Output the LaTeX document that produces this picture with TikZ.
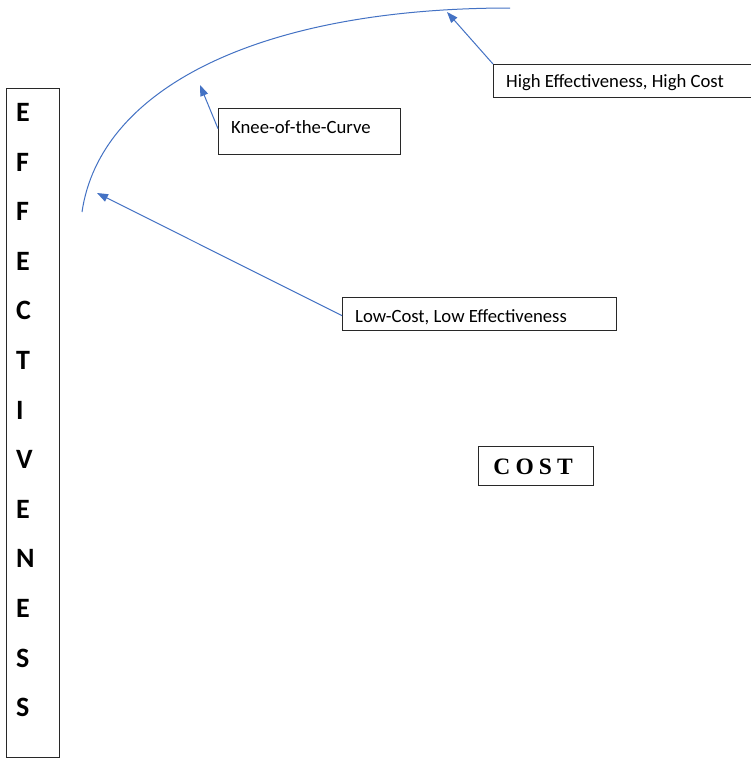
\documentclass[tikz,border=0pt]{standalone}
\usepackage{fontspec}
\setmainfont{Carlito}
\newfontfamily\costfont[LetterSpace=22]{Liberation Serif}
\usetikzlibrary{arrows.meta,calc}
\definecolor{wordblue}{RGB}{68,114,196}
\definecolor{boxgray}{RGB}{40,40,40}
\tikzset{
  box/.style={draw=boxgray,line width=1.3pt,inner sep=0pt,anchor=north west},
  lbl/.style={anchor=base west,inner sep=0pt,font=\fontsize{18.7}{22}\selectfont},
  vletter/.style={anchor=base west,inner sep=0pt,font=\fontsize{28}{32}\selectfont\bfseries},
  curve/.style={draw=wordblue,line width=1pt},
  arr/.style={draw=wordblue,line width=1pt,-{Triangle[length=11pt,width=8pt]}}
}
\begin{document}
\begin{tikzpicture}[x=1pt,y=-1pt]
\useasboundingbox (0,0) rectangle (751,758);
\fill[white] (0,0) rectangle (751,758);
% vertical axis box
\node[box,minimum width=53pt,minimum height=669pt] (axis) at (6,88) {};
\foreach \L [count=\i from 0] in {E,F,F,E,C,T,I,V,E,N,E,S,S}
  \node[vletter] (l\i) at (16,121.5+49.6*\i) {\L};
% curve
\coordinate (cstart) at (82,212);
\coordinate (cend) at (510,8);
\draw[curve] (cstart) .. controls (100,88) and (260,8) .. (cend);
% boxes
\node[box,minimum width=270pt,minimum height=33pt] (high) at (493,64) {};
\node[lbl] (hightxt) at (506,87) {High Effectiveness, High Cost};
\node[box,minimum width=182pt,minimum height=46pt] (knee) at (218,108) {};
\node[lbl] (kneetxt) at (231,133) {Knee-of-the-Curve};
\node[box,minimum width=274pt,minimum height=33pt] (low) at (342,297) {};
\node[lbl] (lowtxt) at (355,322) {Low-Cost, Low Effectiveness};
\node[box,minimum width=115pt,minimum height=39pt] (cost) at (478,446) {};
\node[anchor=center,inner sep=0pt,font=\costfont\fontsize{23.5}{26}\selectfont\bfseries] (costtxt) at ($(cost.center)+(-3,1)$) {COST};
% arrow tips
\coordinate (tiphigh) at (447,12);
\coordinate (tipknee) at (200,85);
\coordinate (tiplow) at (97,193);
\draw[arr] (high.north west) -- (tiphigh);
\draw[arr] ([yshift=3pt]knee.west) -- (tipknee);
\draw[arr] ([yshift=-1.5pt]low.west) -- (tiplow);
\end{tikzpicture}
\end{document}
